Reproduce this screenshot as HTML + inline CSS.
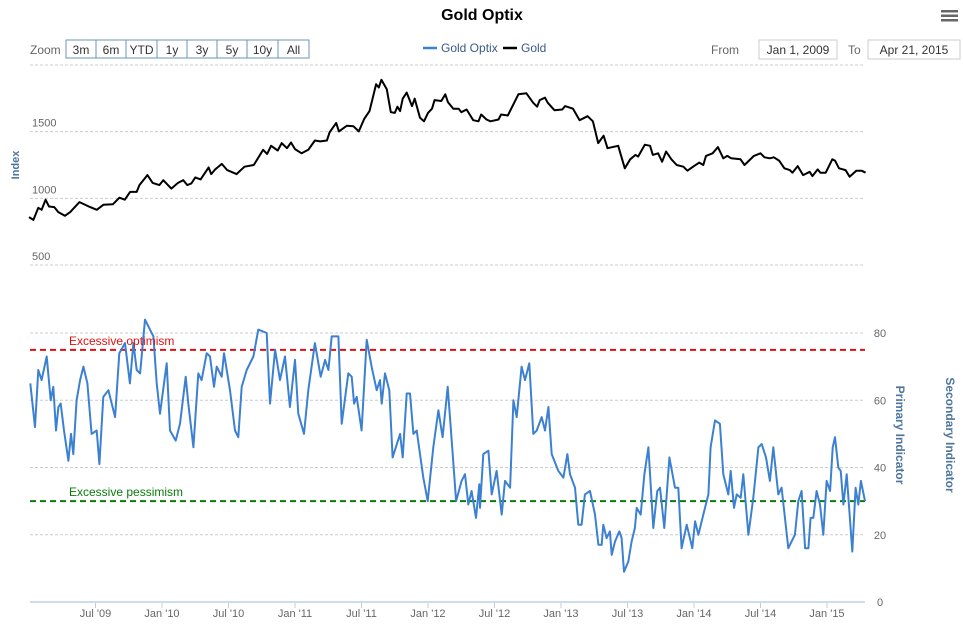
<!DOCTYPE html>
<html><head><meta charset="utf-8"><style>
body{margin:0;background:#fff;font-family:"Liberation Sans",sans-serif;}
svg text{font-family:"Liberation Sans",sans-serif;}
</style></head><body>
<svg id="c" width="963" height="622" xmlns="http://www.w3.org/2000/svg">
<rect width="963" height="622" fill="#fff"/>
<text x="482" y="20" text-anchor="middle" font-size="16" font-weight="bold" fill="#000">Gold Optix</text>
<g fill="#666">
<rect x="941" y="10" width="17" height="2.5"/><rect x="941" y="14.5" width="17" height="2.5"/><rect x="941" y="19" width="17" height="2.5"/>
</g>
<text x="30" y="54" font-size="12" fill="#666">Zoom</text>
<g id="zbtns"></g>
<g>
<line x1="423" y1="48" x2="437" y2="48" stroke="#3c80d2" stroke-width="2.5"/>
<text x="441" y="52" font-size="12" fill="#3a5a85">Gold Optix</text>
<line x1="503" y1="48" x2="517" y2="48" stroke="#000" stroke-width="2.5"/>
<text x="521" y="52" font-size="12" fill="#3a5a85">Gold</text>
</g>
<text x="711" y="54" font-size="12" fill="#666">From</text>
<rect x="759" y="40" width="78" height="19" fill="#fff" stroke="#ccc"/>
<text x="798" y="54" font-size="12" text-anchor="middle" fill="#333">Jan 1, 2009</text>
<text x="848" y="54" font-size="12" fill="#666">To</text>
<rect x="868" y="40" width="92" height="19" fill="#fff" stroke="#ccc"/>
<text x="914" y="54" font-size="12" text-anchor="middle" fill="#333">Apr 21, 2015</text>
<g id="grid"></g>
<g id="marks"></g>
<text transform="translate(19,165) rotate(-90)" text-anchor="middle" font-size="11" font-weight="bold" fill="#4d759e">Index</text>
<text transform="translate(896,435) rotate(90)" text-anchor="middle" font-size="12" font-weight="bold" fill="#4d759e">Primary Indicator</text>
<text transform="translate(946,435) rotate(90)" text-anchor="middle" font-size="12" font-weight="bold" fill="#4d759e">Secondary Indicator</text>
</svg>
<script>
const goldTimes=[0,0.033,0.07,0.095,0.125,0.15,0.19,0.22,0.27,0.31,0.38,0.46,0.51,0.56,0.63,0.68,0.72,0.76,0.81,0.83,0.89,0.93,0.98,1.01,1.07,1.12,1.16,1.19,1.22,1.25,1.29,1.35,1.37,1.40,1.45,1.49,1.56,1.62,1.69,1.76,1.79,1.82,1.87,1.90,1.94,1.97,2.00,2.05,2.10,2.15,2.19,2.24,2.26,2.31,2.33,2.39,2.44,2.48,2.52,2.56,2.61,2.63,2.65,2.69,2.72,2.75,2.77,2.79,2.81,2.84,2.88,2.90,2.94,2.97,3.00,3.03,3.05,3.10,3.13,
3.15,3.19,3.23,3.25,3.29,3.34,3.38,3.40,3.44,3.47,3.53,3.55,3.60,3.68,3.74,3.79,3.82,3.84,3.88,3.90,3.95,4.01,4.03,4.09,4.14,4.20,4.24,4.28,4.32,4.35,4.43,4.48,4.52,4.56,4.58,4.63,4.67,4.69,4.73,4.76,4.79,4.83,4.87,4.92,4.95,5.00,5.04,5.07,5.09,5.14,5.18,5.22,5.25,5.28,5.35,5.38,5.45,5.50,5.53,5.57,5.60,5.64,5.68,5.72,5.74,5.78,5.82,5.87,5.89,5.93,5.95,5.99,6.04,6.06,6.09,6.14,6.17,6.22,6.26,6.29];
const goldValues=[859,838,929,914,990,939,934,897,869,897,972,934,914,952,955,1005,990,1048,1048,1099,1174,1116,1099,1136,1073,1116,1136,1099,1111,1157,1142,1232,1182,1217,1258,1212,1182,1237,1250,1364,1333,1394,1359,1414,1376,1419,1369,1338,1364,1434,1427,1434,1495,1566,1502,1545,1540,1502,1596,1654,1856,1831,1889,1818,1646,1641,1687,1654,1747,1793,1692,1747,1604,1578,1641,1672,1737,1730,1780,
1722,1672,1672,1646,1666,1586,1578,1629,1591,1578,1591,1629,1621,1780,1788,1717,1687,1737,1755,1717,1661,1666,1692,1672,1586,1616,1578,1414,1470,1376,1394,1225,1293,1326,1313,1402,1394,1326,1338,1275,1351,1293,1250,1237,1207,1242,1268,1250,1318,1338,1384,1300,1318,1300,1293,1250,1318,1338,1308,1300,1308,1283,1225,1212,1192,1242,1174,1199,1167,1217,1192,1192,1293,1283,1225,1212,1162,1207,1207,1192];
const optixTimes=[0.01,0.045,0.07,0.095,0.133,0.163,0.183,0.203,0.221,0.238,0.263,0.296,0.316,0.333,0.358,0.384,0.409,0.439,0.471,0.509,0.529,0.559,0.597,0.647,0.679,0.722,0.759,0.785,0.81,0.835,0.872,0.935,0.96,0.985,1.035,1.06,1.103,1.135,1.178,1.198,1.236,1.273,1.298,1.336,1.361,1.391,1.411,1.449,1.466,1.511,1.549,1.574,1.599,1.637,1.687,1.724,1.787,1.812,1.85,1.887,1.925,1.962,2.0,2.025,2.068,2.1,2.15,2.193,2.226,2.251,2.276,2.326,2.351,2.401,2.426,2.444,2.464,2.501,2.539,2.576,2.614,2.639,2.652,2.677,2.709,2.734,2.79,2.81,2.84,2.865,2.89,2.915,2.965,2.998,3.04,3.078,3.11,3.148,3.186,3.211,3.253,3.278,3.303,3.328,3.361,3.386,
3.391,3.416,3.454,3.479,3.516,3.554,3.579,3.617,3.642,3.667,3.704,3.729,3.762,3.792,3.817,3.855,3.88,3.905,3.93,3.98,4.018,4.048,4.068,4.105,4.13,4.155,4.18,4.218,4.256,4.281,4.306,4.318,4.343,4.368,4.381,4.406,4.439,4.456,4.474,4.506,4.531,4.556,4.569,4.599,4.627,4.657,4.694,4.724,4.744,4.777,4.815,4.857,4.882,4.907,4.945,4.987,5.008,5.033,5.07,5.108,5.125,5.158,5.195,5.22,5.258,5.276,5.301,5.321,5.351,5.371,5.409,5.446,5.484,5.509,5.541,5.571,5.596,5.634,5.659,5.709,5.759,5.784,5.809,5.835,5.86,5.877,5.897,5.922,5.947,5.972,5.997,6.023,6.043,6.06,6.085,6.103,6.123,6.148,6.19,6.215,6.235,6.255,6.286];
const optixValues=[65,52,69,66,73,60,64,51,58,59,51,42,50,44,60,66,70,65,50,51,41,61,63,55,74,77,65,77,69,68,84,79,65,56,71,51,48,53,67,59,46,68,66,74,73,64,70,67,74,63,51,49,64,69,73,81,80,59,75,66,73,58,72,56,50,63,77,67,72,69,79,79,53,68,67,59,61,51,78,70,63,66,59,68,63,43,50,43,62,62,50,51,37,30,46,57,49,64,44,30,36,38,29,33,25,35,
28,44,45,32,39,26,36,34,60,55,70,66,71,50,51,55,51,58,44,39,37,44,38,34,23,23,32,33,26,17,17,23,19,21,14,18,21,19,9,12,18,22,28,26,38,46,22,33,34,22,43,34,34,16,23,16,24,20,26,32,46,54,53,38,32,39,28,32,31,38,20,31,46,47,43,36,46,32,34,16,20,30,33,16,16,25,25,33,29,20,36,33,46,49,40,39,29,38,15,34,29,36,30];
const goldTicks=[500,1000,1500,2000];
const optixTicks=[0,20,40,60,80];
const xTickLabels=["Jul '09","Jan '10","Jul '10","Jan '11","Jul '11","Jan '12","Jul '12","Jan '13","Jul '13","Jan '14","Jul '14","Jan '15"];
const xTickTimes=[0.5,1,1.5,2,2.5,3,3.5,4,4.5,5,5.5,6];
const optimismLevel=75, pessimismLevel=30;
const zoomButtons=["3m","6m","YTD","1y","3y","5y","10y","All"];

const NS="http://www.w3.org/2000/svg";
const X0=30,X1=865;
const xS=t=>29+t*133;
const yG=v=>65+(2000-v)*(200/1500);
const yO=v=>602-v*(269/80);
function mk(tag,attrs,parent){const e=document.createElementNS(NS,tag);for(const k in attrs)e.setAttribute(k,attrs[k]);parent.appendChild(e);return e;}
const grid=document.getElementById('grid'),marks=document.getElementById('marks'),zb=document.getElementById('zbtns');

let bx=66;
zoomButtons.forEach(b=>{const w=b.length>2?31:30;
 const g=mk('g',{},zb);
 
 
 mk('rect',{x:bx,y:40,width:w,height:18,fill:'#fff',stroke:'#6f93b8'},g);
 const t=mk('text',{x:bx+w/2,y:54,'text-anchor':'middle','font-size':12,fill:'#333'},g);t.textContent=b;bx+=w;});

goldTicks.forEach(v=>{const y=yG(v);
 const l=mk('line',{x1:X0,x2:X1,y1:y,y2:y,stroke:'#ccc','stroke-dasharray':'3,2'},grid);
 
 
 if(v<2000){const t=mk('text',{x:32,y:y-5,'font-size':11,fill:'#666'},grid);
 
 
 t.textContent=v;}});
optixTicks.forEach(v=>{const y=yO(v);
 const l=mk('line',{x1:X0,x2:X1,y1:y,y2:y,stroke:v===0?'#c0cfe0':'#ccc','stroke-dasharray':v===0?'':'3,2','stroke-width':v===0?1.5:1},grid);
 
 
 const t=mk('text',{x:880,y:y+4,'font-size':11,fill:'#666','text-anchor':'middle'},grid);
 
 
 t.textContent=v;});
xTickTimes.forEach((tt,i)=>{const x=xS(tt);
 mk('line',{x1:x,x2:x,y1:603,y2:608,stroke:'#c0cfe0'},grid);
 const t=mk('text',{x:x,y:617,'font-size':11,fill:'#666','text-anchor':'middle'},grid);
 
 
 t.textContent=xTickLabels[i];});

const gp=goldValues.map((v,i)=>xS(goldTimes[i]).toFixed(1)+','+yG(v).toFixed(1)).join(' ');
const gl=mk('polyline',{points:gp,fill:'none',stroke:'#000','stroke-width':2,'stroke-linejoin':'round'},marks);



const ol=mk('line',{x1:X0,x2:X1,y1:yO(optimismLevel),y2:yO(optimismLevel),stroke:'#e01010','stroke-width':2,'stroke-dasharray':'6,4'},marks);


const pl=mk('line',{x1:X0,x2:X1,y1:yO(pessimismLevel),y2:yO(pessimismLevel),stroke:'#0a7a0a','stroke-width':2,'stroke-dasharray':'6,4'},marks);



const op=optixValues.map((v,i)=>xS(optixTimes[i]).toFixed(1)+','+yO(v).toFixed(1)).join(' ');
const oln=mk('polyline',{points:op,fill:'none',stroke:'#3c80d2','stroke-width':2,'stroke-linejoin':'round'},marks);



const t1=mk('text',{x:69,y:yO(optimismLevel)-5,'font-size':12,fill:'#e01010'},marks);


t1.textContent='Excessive optimism';
const t2=mk('text',{x:69,y:yO(pessimismLevel)-5,'font-size':12,fill:'#0a7a0a'},marks);


t2.textContent='Excessive pessimism';
</script>
</body></html>
